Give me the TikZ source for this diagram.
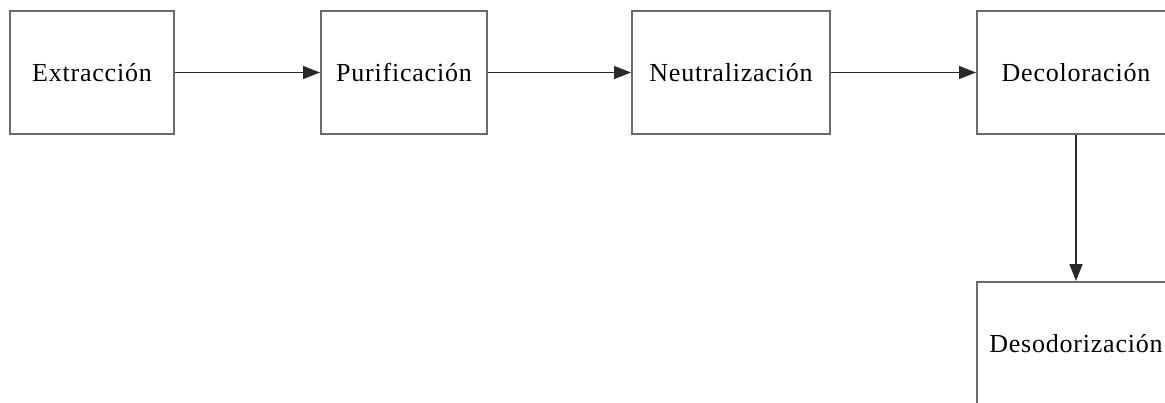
\documentclass[tikz,border=0pt]{standalone}
\usepackage{fontspec}
\setmainfont{Liberation Serif}[LetterSpace=3]
\usetikzlibrary{arrows.meta}
\definecolor{boxline}{HTML}{6A6A6A}
\definecolor{arrline}{HTML}{2A2A2A}
\tikzset{
  stepbox/.style={draw=boxline, line width=2pt, fill=white, minimum height=123pt, inner sep=0pt, font=\fontsize{26}{29}\selectfont, text=black},
  flow/.style={draw=arrline, line width=1.7pt, -{Triangle[length=17pt,width=13pt]}}
}
\begin{document}
\begin{tikzpicture}[x=1pt,y=-1pt]
\useasboundingbox (0,0) rectangle (1165,402);
\clip (0,0) rectangle (1165,402);
\node[stepbox, minimum width=164pt] (ext) at (92,72.5) {Extracción};
\node[stepbox, minimum width=166pt] (pur) at (404,72.5) {Purificación};
\node[stepbox, minimum width=198pt] (neu) at (731,72.5) {Neutralización};
\node[stepbox, minimum width=198pt] (dec) at (1076,72.5) {Decoloración};
\node[stepbox, minimum width=198pt] (des) at (1076,343.5) {Desodorización};
\draw[flow] (ext) -- (pur);
\draw[flow] (pur) -- (neu);
\draw[flow] (neu) -- (dec);
\draw[flow] (dec) -- (des);
\end{tikzpicture}
\end{document}
